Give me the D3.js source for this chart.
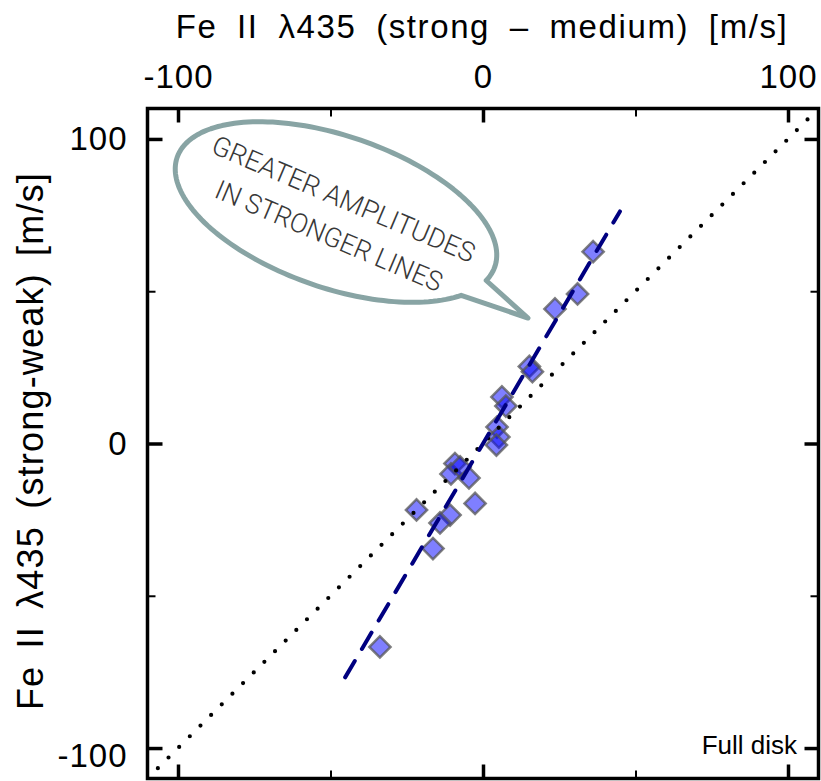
<!DOCTYPE html>
<html>
<head>
<meta charset="utf-8">
<script src="https://cdn.jsdelivr.net/npm/d3@7"></script>
<style>
  body { margin: 0; background: #fff; }
  svg { display: block; }
  .tick text { font-family: "Liberation Sans", Arial, sans-serif; }
</style>
</head>
<body>
<div id="chart"></div>
<script>
// Data (m/s)
var xMajor = [-100, 0, 100];
var xMinor = [-50, 50];
var yMajor = [-100, 0, 100];
var yMinor = [-50, 50];

// strong-medium (x) vs strong-weak (y)
var xVals = [36.1, 31.0, 23.6, 15.2, 16.2, 6.2, 7.5, 4.6, 5.2, 4.4,
             -9.2, -10.5, -7.5, -4.6, -21.8, -2.6, -10.8, -14.1, -16.4, -33.8];
var yVals = [63.0, 49.1, 44.2, 25.3, 23.6, 15.3, 12.3, 5.4, 2.1, -0.5,
             -6.6, -10.0, -7.7, -11.3, -21.8, -19.7, -23.5, -26.1, -34.5, -66.8];

// linear fit (dashed) end points
var fitX = [-45.2, 44.9];
var fitY = [-76.8, 76.2];

// one-to-one line (dotted)
var refLine = [-106.6, 106.4];

var bubbleLines = ["GREATER AMPLITUDES", "IN STRONGER LINES"];
var cornerLabel = "Full disk";

(function() {
var width = 821, height = 781;
var svg = d3.select("#chart").append("svg")
    .attr("width", width)
    .attr("height", height);

// plot frame edges
var pLeft = 147.5, pRight = 818.5, pTop = 108.5, pBottom = 778.5;

var x = d3.scaleLinear().domain([-110, 110]).range([pLeft, pRight]);
var y = d3.scaleLinear().domain([-110, 110]).range([pBottom, pTop]);

var font = '"Liberation Sans", Arial, sans-serif';
// plain hyphen for negatives, like the original
var fmt = function(d) { return String(d); };

// ---- speech bubble annotation ----
var bub = { cx: -48.2, cy: 76.0, tipX: 14.75, tipY: 41.2 };
var rx = 168, ry = 76, rot = 19 * Math.PI / 180;
function ell(t) {
    var c = Math.cos(t), s = Math.sin(t);
    return [x(bub.cx) + rx * c * Math.cos(rot) - ry * s * Math.sin(rot),
            y(bub.cy) + rx * c * Math.sin(rot) + ry * s * Math.cos(rot)];
}
var pts = [];
for (var a = 30; a <= 372; a += 2) {
    pts.push(ell(a * Math.PI / 180));
}
pts.push([x(bub.tipX), y(bub.tipY)]);
svg.append("path")
    .attr("d", d3.line()(pts) + "Z")
    .attr("fill", "#fff")
    .attr("stroke", "#88a4a4")
    .attr("stroke-width", 5)
    .attr("stroke-linejoin", "round");

var textStarts = [[-89.6, 95.6], [-88.5, 81.0]];
var textLens = [283, 244];
bubbleLines.forEach(function(t, i) {
    var px = x(textStarts[i][0]), py = y(textStarts[i][1]);
    svg.append("text")
        .attr("x", px).attr("y", py)
        .attr("transform", "rotate(23," + px + "," + py + ")")
        .attr("textLength", textLens[i])
        .attr("lengthAdjust", "spacingAndGlyphs")
        .style("font-family", "Roboto, 'Open Sans', sans-serif")
        .style("font-weight", 300)
        .style("font-size", "27px")
        .attr("fill", "#383838")
        .text(t);
});

// ---- data points (diamonds) ----
var pts2 = xVals.map(function(v, i) { return [v, yVals[i]]; });
var diamond = d3.symbol().type(d3.symbolSquare).size(225);
svg.append("g").selectAll("path")
    .data(pts2)
    .enter().append("path")
    .attr("d", diamond)
    .attr("transform", function(d) {
        return "translate(" + x(d[0]) + "," + y(d[1]) + ") rotate(45)";
    })
    .attr("fill", "#0000ff")
    .attr("fill-opacity", 0.5)
    .attr("stroke", "#555")
    .attr("stroke-opacity", 0.75)
    .attr("stroke-width", 2.5);

// ---- one-to-one dotted line ----
var refLen = Math.hypot(x(refLine[1]) - x(refLine[0]), y(refLine[1]) - y(refLine[0]));
svg.append("line")
    .attr("x1", x(refLine[0])).attr("y1", y(refLine[0]))
    .attr("x2", x(refLine[1])).attr("y2", y(refLine[1]))
    .attr("stroke", "#000")
    .attr("stroke-width", 4.2)
    .attr("stroke-linecap", "round")
    .attr("stroke-dasharray", "0," + (refLen / 61));

// ---- dashed fit line ----
svg.append("line")
    .attr("x1", x(fitX[0])).attr("y1", y(fitY[0]))
    .attr("x2", x(fitX[1])).attr("y2", y(fitY[1]))
    .attr("stroke", "#000080")
    .attr("stroke-width", 4)
    .attr("stroke-linecap", "round")
    .attr("stroke-dasharray", "19,14");

// ---- axes: ticks point inward on all four sides ----
function styleAxis(g, w) {
    g.select(".domain").remove();
    g.selectAll(".tick line").attr("stroke", "#000").attr("stroke-width", w);
    g.selectAll(".tick text")
        .attr("fill", "#000")
        .style("font-size", "33px")
        .style("letter-spacing", "1px");
}

svg.append("g").attr("transform", "translate(0," + pTop + ")")
    .call(d3.axisTop(x).tickValues(xMajor).tickSize(-14).tickPadding(21).tickFormat(fmt))
    .call(styleAxis, 3.5);
svg.append("g").attr("transform", "translate(0," + pTop + ")")
    .call(d3.axisTop(x).tickValues(xMinor).tickSize(-8).tickFormat(""))
    .call(styleAxis, 2);
svg.append("g").attr("transform", "translate(0," + pBottom + ")")
    .call(d3.axisBottom(x).tickValues(xMajor).tickSize(-14).tickFormat(""))
    .call(styleAxis, 3.5);
svg.append("g").attr("transform", "translate(0," + pBottom + ")")
    .call(d3.axisBottom(x).tickValues(xMinor).tickSize(-8).tickFormat(""))
    .call(styleAxis, 2);

var yAx = svg.append("g").attr("transform", "translate(" + pLeft + ",0)")
    .call(d3.axisLeft(y).tickValues(yMajor).tickSize(-15).tickPadding(20).tickFormat(fmt))
    .call(styleAxis, 3.5);
// bottom label sits a bit lower than its tick in the original
yAx.selectAll(".tick text").filter(function(d) { return d === -100; }).attr("y", 8);
svg.append("g").attr("transform", "translate(" + pLeft + ",0)")
    .call(d3.axisLeft(y).tickValues(yMinor).tickSize(-8).tickFormat(""))
    .call(styleAxis, 2);
svg.append("g").attr("transform", "translate(" + pRight + ",0)")
    .call(d3.axisRight(y).tickValues(yMajor).tickSize(-14).tickFormat(""))
    .call(styleAxis, 3.5);
svg.append("g").attr("transform", "translate(" + pRight + ",0)")
    .call(d3.axisRight(y).tickValues(yMinor).tickSize(-8).tickFormat(""))
    .call(styleAxis, 2);

// frame
svg.append("rect")
    .attr("x", pLeft).attr("y", pTop)
    .attr("width", pRight - pLeft).attr("height", pBottom - pTop)
    .attr("fill", "none")
    .attr("stroke", "#000")
    .attr("stroke-width", 3.5);

// ---- titles ----
svg.append("text")
    .attr("x", (pLeft + pRight) / 2 - 1)
    .attr("y", 38)
    .attr("text-anchor", "middle")
    .style("font-family", font)
    .style("font-size", "33px")
    .style("letter-spacing", "1.6px")
    .style("word-spacing", "9px")
    .text("Fe II \u03bb435 (strong \u2013 medium) [m/s]");

svg.append("text")
    .attr("transform", "translate(43," + 441 + ") rotate(-90)")
    .attr("text-anchor", "middle")
    .style("font-family", font)
    .style("font-size", "36px")
    .style("letter-spacing", "1.2px")
    .style("word-spacing", "6px")
    .text("Fe II \u03bb435 (strong-weak) [m/s]");

svg.append("text")
    .attr("x", 797)
    .attr("y", 754)
    .attr("text-anchor", "end")
    .style("font-family", font)
    .style("font-size", "26px")
    .text(cornerLabel);
})();
</script>
</body>
</html>
